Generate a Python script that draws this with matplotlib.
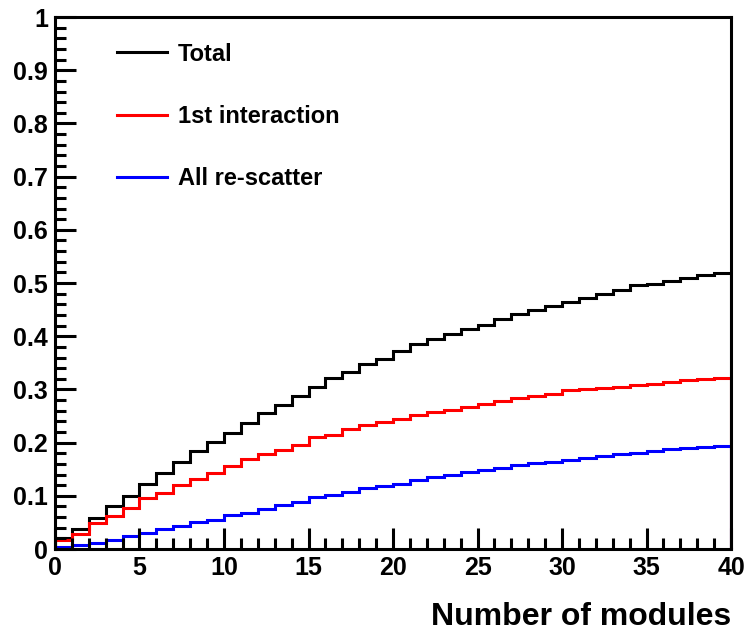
import numpy as np
import matplotlib
matplotlib.use("Agg")
import matplotlib.pyplot as plt
from matplotlib.ticker import MultipleLocator, FuncFormatter

# bin edges: modules 0..40
edges = np.arange(0, 41)

# values, one per bin
total = [0.020, 0.037, 0.058, 0.080, 0.100, 0.122, 0.143, 0.163, 0.184, 0.202,
         0.219, 0.237, 0.255, 0.271, 0.288, 0.305, 0.321, 0.332, 0.348, 0.358,
         0.372, 0.385, 0.394, 0.405, 0.413, 0.422, 0.432, 0.442, 0.450, 0.457,
         0.465, 0.472, 0.479, 0.487, 0.496, 0.499, 0.504, 0.509, 0.515, 0.518]
first_int = [0.017, 0.029, 0.048, 0.062, 0.078, 0.095, 0.106, 0.121, 0.131, 0.142,
             0.156, 0.169, 0.178, 0.187, 0.195, 0.210, 0.214, 0.225, 0.233, 0.239,
             0.244, 0.251, 0.257, 0.262, 0.267, 0.272, 0.278, 0.284, 0.288, 0.291,
             0.298, 0.300, 0.302, 0.305, 0.308, 0.311, 0.314, 0.317, 0.320, 0.322]
rescatter = [0.003, 0.0075, 0.011, 0.016, 0.024, 0.030, 0.038, 0.044, 0.050, 0.055,
             0.063, 0.068, 0.075, 0.082, 0.089, 0.097, 0.101, 0.108, 0.114, 0.118,
             0.123, 0.130, 0.135, 0.140, 0.145, 0.149, 0.153, 0.158, 0.161, 0.164,
             0.167, 0.172, 0.175, 0.179, 0.181, 0.185, 0.188, 0.189, 0.192, 0.194]

labels = ["Total", "1st interaction", "All re-scatter"]
colors = ["black", "red", "blue"]

plt.rcParams["font.family"] = ["Liberation Sans", "DejaVu Sans"]
plt.rcParams["font.weight"] = "bold"

fig = plt.figure(figsize=(7.46, 6.33), dpi=100)
ax = fig.add_axes([0.0737, 0.1327, 0.9063, 0.8403])

for vals, c, lab in zip([total, first_int, rescatter], colors, labels):
    ax.stairs(vals, edges, color=c, lw=2.2, label=lab)

ax.set_xlim(0, 40)
ax.set_ylim(0, 1)

ax.xaxis.set_major_locator(MultipleLocator(5))
ax.xaxis.set_minor_locator(MultipleLocator(1))
ax.yaxis.set_major_locator(MultipleLocator(0.1))
ax.yaxis.set_minor_locator(MultipleLocator(0.02))
ax.yaxis.set_major_formatter(FuncFormatter(lambda v, p: "%g" % round(v, 2)))

ax.tick_params(which="both", direction="in", width=2.2, labelsize=18, top=False, right=False)
ax.tick_params(which="major", length=15, pad=5)
ax.tick_params(which="minor", length=8)
for s in ax.spines.values():
    s.set_linewidth(2.2)

ax.set_xlabel("Number of modules", fontsize=23, fontweight="bold", loc="right", labelpad=16)

leg = ax.legend(loc="upper left", bbox_to_anchor=(0.060, 0.992), frameon=False,
                fontsize=17, handlelength=2.12, handletextpad=0.47, labelspacing=1.67)
for t in leg.get_texts():
    t.set_fontweight("bold")

fig.savefig("out.png", dpi=100)
